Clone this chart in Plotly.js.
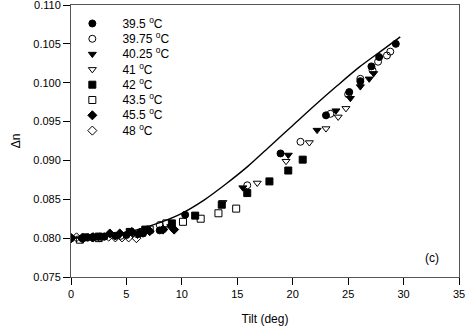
<!DOCTYPE html>
<html>
<head>
<meta charset="utf-8">
<script src="https://cdn.plot.ly/plotly-3.0.1.min.js"></script>
<style>
  body { margin: 0; background: #fff; }
  #plot { width: 467px; height: 334px; }
</style>
</head>
<body>
<div id="plot"></div>
<script>
// measured points, tilt (deg) vs birefringence
var x395 = [0, 1, 2, 3, 4, 5, 6.5, 8, 10.3, 18.9, 23.0, 25.1, 26.1, 27.1, 27.8, 29.3];
var y395 = [0.0800, 0.0800, 0.0801, 0.0802, 0.0803, 0.0804, 0.0806, 0.0810, 0.0830, 0.0909, 0.0958, 0.0988, 0.1002, 0.1021, 0.1033, 0.1050];

var x3975 = [0, 1.5, 3, 4.5, 6, 8.0, 15.9, 20.7, 23.4, 25.0, 26.1, 27.2, 27.7, 28.5, 28.8];
var y3975 = [0.0800, 0.0801, 0.0802, 0.0803, 0.0805, 0.0817, 0.0868, 0.0924, 0.0960, 0.0985, 0.1005, 0.1016, 0.1027, 0.1035, 0.1040];

var x4025 = [0, 2, 4, 6, 9, 15.5, 19.6, 22.2, 23.9, 25.2, 26.1, 26.9, 27.3];
var y4025 = [0.0800, 0.0801, 0.0803, 0.0805, 0.0815, 0.0865, 0.0907, 0.0939, 0.0964, 0.0980, 0.0995, 0.1005, 0.1012];

var x41 = [0, 2, 4, 6, 8.5, 13.7, 16.8, 19.4, 21.5, 23.0, 24.1, 24.8];
var y41 = [0.0800, 0.0801, 0.0802, 0.0804, 0.0812, 0.0846, 0.0871, 0.0899, 0.0923, 0.0941, 0.0956, 0.0967];

var x42 = [1.3, 2.5, 5.3, 6.7, 9.1, 11.2, 13.6, 15.9, 17.9, 19.6, 20.9];
var y42 = [0.0801, 0.0802, 0.0808, 0.0811, 0.0819, 0.0829, 0.0843, 0.0858, 0.0873, 0.0887, 0.0901];

var x435 = [0.8, 2.5, 7.1, 8.6, 10.1, 11.7, 13.3, 14.9];
var y435 = [0.0798, 0.0800, 0.0811, 0.0819, 0.0821, 0.0825, 0.0832, 0.0838];

var x455 = [0, 1, 2, 3.5, 4.4, 5.5, 6.2, 7.1, 8.3, 9.3];
var y455 = [0.0800, 0.0800, 0.0801, 0.0806, 0.0806, 0.0808, 0.0807, 0.0809, 0.0811, 0.0811];

var x48 = [0, 0.5, 1.1, 1.9, 2.6, 3.4, 4.0, 4.6, 5.2, 5.9];
var y48 = [0.0800, 0.0801, 0.0800, 0.0801, 0.0801, 0.0802, 0.0801, 0.0801, 0.0801, 0.0800];

// model curve
var xFit = [0, 2, 4, 6, 8, 10, 12, 14, 16, 18, 20, 22, 24, 26, 28, 29.7];
var yFit = [0.0800, 0.0802, 0.0805, 0.0811, 0.0820, 0.0832, 0.0849, 0.0870, 0.0893, 0.0919, 0.0945, 0.0971, 0.0996, 0.1020, 0.1041, 0.1059];

var yTicks = [0.075, 0.080, 0.085, 0.090, 0.095, 0.100, 0.105, 0.110];
var yTickText = ['0.075', '0.080', '0.085', '0.090', '0.095', '0.100', '0.105', '0.110'];

var names = ['39.5 <sup>o</sup>C', '39.75 <sup>o</sup>C', '40.25 <sup>o</sup>C', '41 <sup>o</sup>C',
             '42 <sup>o</sup>C', '43.5 <sup>o</sup>C', '45.5 <sup>o</sup>C', '48 <sup>o</sup>C'];
var symbols = ['circle', 'circle-open', 'triangle-down', 'triangle-down-open',
               'square', 'square-open', 'diamond', 'diamond-open'];
var seriesX = [x395, x3975, x4025, x41, x42, x435, x455, x48];
var seriesY = [y395, y3975, y4025, y41, y42, y435, y455, y48];

function mk(sym) {
  return {symbol: sym, size: 7, color: '#000', line: {color: '#000', width: 1}};
}

var data = [
  {x: xFit, y: yFit, mode: 'lines', type: 'scatter', line: {color: '#000', width: 1.4, shape: 'spline', smoothing: 0.8}}
];
for (var i = 0; i < names.length; i++) {
  data.push({x: seriesX[i], y: seriesY[i], mode: 'markers', type: 'scatter', marker: mk(symbols[i])});
}
// key drawn on a small category axis so rows sit closer than the built-in legend allows
for (var j = 0; j < names.length; j++) {
  data.push({x: [0], y: [names[j]], xaxis: 'x2', yaxis: 'y2', mode: 'markers', type: 'scatter', marker: mk(symbols[j])});
}

var layout = {
  width: 467, height: 334,
  margin: {l: 71, r: 8, t: 5, b: 57},
  paper_bgcolor: '#fff', plot_bgcolor: '#fff',
  font: {family: 'Liberation Sans, Arial, sans-serif', size: 11, color: '#000'},
  showlegend: false,
  xaxis: {
    range: [0, 35], dtick: 5, ticks: 'outside', ticklen: 7, tickcolor: '#000',
    showline: true, mirror: true, linecolor: '#555', linewidth: 1,
    showgrid: false, zeroline: false, ticklabeloverflow: 'allow',
    title: {text: 'Tilt (deg)', font: {size: 12}, standoff: 15}
  },
  yaxis: {
    range: [0.075, 0.110], tickmode: 'array', tickvals: yTicks, ticktext: yTickText,
    ticks: 'outside', ticklen: 7, tickcolor: '#000',
    showline: true, mirror: true, linecolor: '#555', linewidth: 1,
    showgrid: false, zeroline: false, ticklabeloverflow: 'allow',
    title: {text: 'Δn', font: {size: 12}, standoff: 10}
  },
  xaxis2: {domain: [0.03, 0.08], range: [-1, 1], anchor: 'y2', visible: false, fixedrange: true},
  yaxis2: {
    domain: [0.4985, 0.9718], anchor: 'free', position: 0.13, side: 'right',
    type: 'category', categoryorder: 'array', categoryarray: names, autorange: 'reversed',
    showline: false, ticks: '', showgrid: false, zeroline: false,
    tickfont: {size: 12, color: '#000'}
  },
  annotations: [
    {x: 32.6, y: 0.0774, xref: 'x', yref: 'y', text: '(c)', showarrow: false, font: {size: 12}}
  ]
};

Plotly.newPlot('plot', data, layout, {staticPlot: true});
</script>
</body>
</html>
